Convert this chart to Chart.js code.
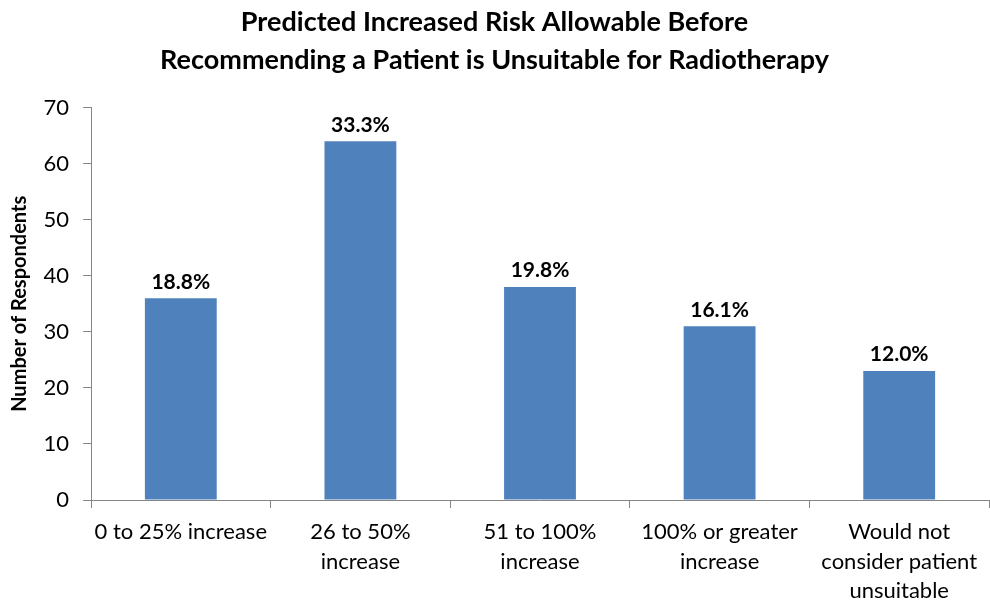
<!DOCTYPE html>
<html>
<head>
<meta charset="utf-8">
<title>Predicted Increased Risk Allowable Before Recommending a Patient is Unsuitable for Radiotherapy</title>
<script src="https://cdn.jsdelivr.net/npm/chart.js@4/dist/chart.umd.min.js"></script>
<style>
  html, body { margin: 0; padding: 0; background: #ffffff; }
  #wrap { width: 990px; height: 600px; }
</style>
</head>
<body>
<div id="wrap"><canvas id="chart" width="990" height="600"></canvas></div>
<script>
// Survey answers: how much extra predicted risk is acceptable
const categories = [
  '0 to 25% increase',
  ['26 to 50%', 'increase'],
  ['51 to 100%', 'increase'],
  ['100% or greater', 'increase'],
  ['Would not', 'consider patient', 'unsuitable']
];
const respondents = [36, 64, 38, 31, 23];
const yTicks = [0, 10, 20, 30, 40, 50, 60, 70];

const titleLines = [
  'Predicted Increased Risk Allowable Before',
  'Recommending a Patient is Unsuitable for Radiotherapy'
];
const yAxisTitle = 'Number of Respondents';

const FONT = 'Lato, "Open Sans", sans-serif';
const AXIS_GREY = '#868686';
const BAR_BLUE = '#4F81BD';

const totalRespondents = respondents.reduce((a, b) => a + b, 0);

// Share of all respondents written above each bar
const shareLabels = {
  id: 'shareLabels',
  afterDatasetsDraw(chart) {
    const ctx = chart.ctx;
    const meta = chart.getDatasetMeta(0);
    ctx.save();
    ctx.font = 'bold 21px ' + FONT;
    ctx.fillStyle = '#000000';
    ctx.textAlign = 'center';
    ctx.textBaseline = 'bottom';
    meta.data.forEach((bar, i) => {
      const pct = (respondents[i] / totalRespondents * 100).toFixed(1) + '%';
      ctx.fillText(pct, bar.x, bar.y - 6);
    });
    ctx.restore();
  }
};

new Chart(document.getElementById('chart'), {
  type: 'bar',
  data: {
    labels: categories,
    datasets: [{
      data: respondents,
      backgroundColor: BAR_BLUE,
      borderWidth: 0,
      barPercentage: 0.4,
      categoryPercentage: 1.0
    }]
  },
  options: {
    responsive: false,
    animation: false,
    layout: { padding: { left: 0, right: 1, top: 0, bottom: 0 } },
    plugins: {
      legend: { display: false },
      tooltip: { enabled: false },
      title: {
        display: true,
        text: titleLines,
        color: '#000000',
        font: { family: FONT, size: 27, weight: 'bold', lineHeight: 1.42 },
        padding: { top: 3, bottom: 28 }
      }
    },
    scales: {
      x: {
        grid: {
          display: true,
          offset: true,
          drawOnChartArea: false,
          drawTicks: true,
          tickLength: 8,
          color: AXIS_GREY
        },
        border: { display: true, color: AXIS_GREY, width: 1 },
        ticks: {
          color: '#000000',
          font: { family: FONT, size: 22, lineHeight: 1.35 },
          padding: 9,
          maxRotation: 0,
          autoSkip: false
        },
        afterFit(scale) { scale.height = 100; }
      },
      y: {
        min: 0,
        max: 70,
        afterBuildTicks(scale) { scale.ticks = yTicks.map(v => ({ value: v })); },
        grid: {
          display: true,
          drawOnChartArea: false,
          drawTicks: true,
          tickLength: 8,
          color: AXIS_GREY
        },
        border: { display: true, color: AXIS_GREY, width: 1 },
        ticks: {
          color: '#000000',
          font: { family: FONT, size: 22 },
          padding: 14
        },
        title: {
          display: true,
          text: yAxisTitle,
          color: '#000000',
          font: { family: FONT, size: 20, weight: 'bold' },
          padding: { top: 8, bottom: 4 }
        },
        afterFit(scale) { scale.width = 91; }
      }
    }
  },
  plugins: [shareLabels]
});
</script>
</body>
</html>
